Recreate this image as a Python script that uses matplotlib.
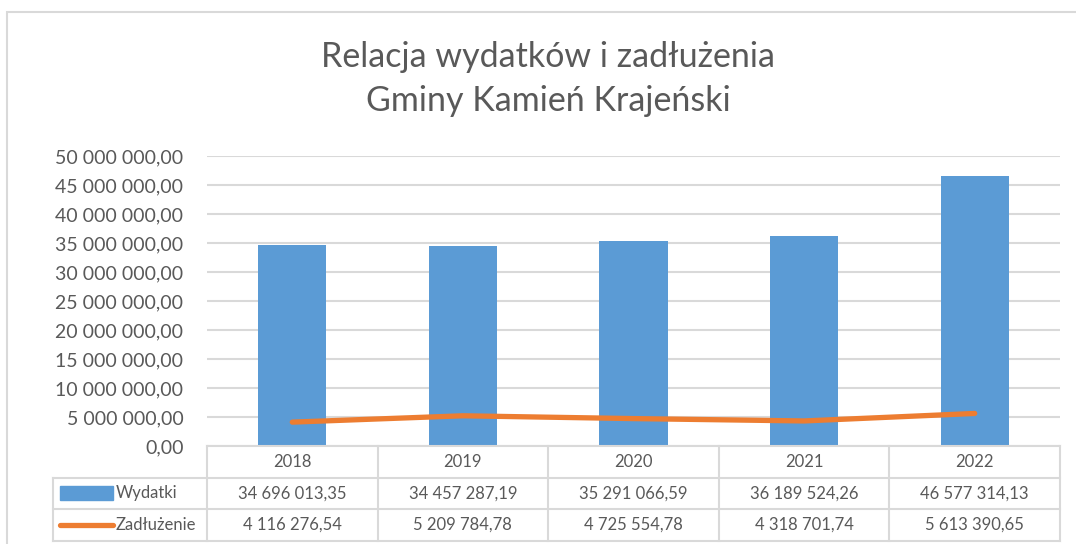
import matplotlib
matplotlib.use("Agg")
import matplotlib.pyplot as plt
from matplotlib import transforms
from matplotlib.patches import Rectangle
from matplotlib.lines import Line2D

years = ["2018", "2019", "2020", "2021", "2022"]
wydatki = [34696013.35, 34457287.19, 35291066.59, 36189524.26, 46577314.13]
zadluzenie = [4116276.54, 5209784.78, 4725554.78, 4318701.74, 5613390.65]
series_names = ["Wydatki", "Zadłużenie"]
title_lines = ["Relacja wydatków i zadłużenia", "Gminy Kamień Krajeński"]

BLUE = "#5B9BD5"
ORANGE = "#ED7D31"
GRID = "#D9D9D9"
TXT = "#595959"
FONT = "Lato"

def fmt(v):
    return f"{v:,.2f}".replace(",", " ").replace(".", ",")

W, H = 1076, 544
fig = plt.figure(figsize=(W / 100, H / 100), dpi=100)
plt.rcParams['font.family'] = [FONT, 'DejaVu Sans']

# chart border
fig.patches.append(Rectangle((7 / W, -0.2), 2.0, (H - 12) / H + 0.2, transform=fig.transFigure,
                             fill=False, edgecolor=GRID, linewidth=1.5, clip_on=False))

left, right, top, bottom = 207, 1060, 156, 446
ax = fig.add_axes([left / W, (H - bottom) / H, (right - left) / W, (bottom - top) / H])
x = list(range(len(years)))
ax.bar(x, wydatki, width=0.4, color=BLUE, zorder=2)
ax.plot(x, zadluzenie, color=ORANGE, lw=3.8, solid_capstyle="round", zorder=3)
ax.set_xlim(-0.5, len(years) - 0.5)
ax.set_ylim(0, 50e6)
ax.set_yticks([i * 5e6 for i in range(11)])
ax.set_yticklabels([fmt(v) for v in ax.get_yticks()], fontsize=14, color=TXT, family=FONT)
ax.tick_params(axis="y", length=0, pad=17)
ax.set_xticks([])
ax.grid(axis="y", color=GRID, lw=1.5, zorder=0)
for s in ax.spines.values():
    s.set_visible(False)

fig.text(548 / W, 1 - 57 / H, title_lines[0], ha="center", va="center", fontsize=24.5, color=TXT, family=FONT)
fig.text(548 / W, 1 - 101 / H, title_lines[1], ha="center", va="center", fontsize=24.5, color=TXT, family=FONT)

# data table
ph = bottom - top
rh = 31.5 / ph
blend = transforms.blended_transform_factory(ax.transData, ax.transAxes)
tl = (53 - left) / (right - left)
lw = 1.5
def hline(x0, x1, y, tr0):
    ax.add_line(Line2D([x0, x1], [y, y], transform=tr0, color=GRID, lw=lw, clip_on=False))
def vline(xv, y0, y1, tr0):
    ax.add_line(Line2D([xv, xv], [y0, y1], transform=tr0, color=GRID, lw=lw, clip_on=False))

hline(-0.5, len(years) - 0.5, 0, blend)
hline(tl, 1, -rh, ax.transAxes)
hline(tl, 1, -2 * rh, ax.transAxes)
hline(tl, 1, -3 * rh, ax.transAxes)
vline(tl, -rh, -3 * rh, ax.transAxes)
for i in range(len(years) + 1):
    vline(i - 0.5, 0, -3 * rh, blend)

for i, yr in enumerate(years):
    ax.text(i, -0.5 * rh, yr, transform=blend, ha="center", va="center", fontsize=12, color=TXT, family=FONT)
    ax.text(i, -1.5 * rh, fmt(wydatki[i]), transform=blend, ha="center", va="center", fontsize=12, color=TXT, family=FONT)
    ax.text(i, -2.5 * rh, fmt(zadluzenie[i]), transform=blend, ha="center", va="center", fontsize=12, color=TXT, family=FONT)

# legend keys
kx0 = (60 - left) / (right - left)
kx1 = (113 - left) / (right - left)
ax.add_patch(Rectangle((kx0, -1.5 * rh - 7 / ph), kx1 - kx0, 14 / ph, transform=ax.transAxes,
                       color=BLUE, clip_on=False))
ax.add_line(Line2D([kx0, kx1], [-2.5 * rh, -2.5 * rh], transform=ax.transAxes, color=ORANGE,
                   lw=3.8, solid_capstyle="round", clip_on=False))
tx = (116 - left) / (right - left)
ax.text(tx, -1.5 * rh, series_names[0], transform=ax.transAxes, ha="left", va="center", fontsize=12, color=TXT, family=FONT)
ax.text(tx, -2.5 * rh, series_names[1], transform=ax.transAxes, ha="left", va="center", fontsize=12, color=TXT, family=FONT)

fig.savefig("out.png", dpi=100)
